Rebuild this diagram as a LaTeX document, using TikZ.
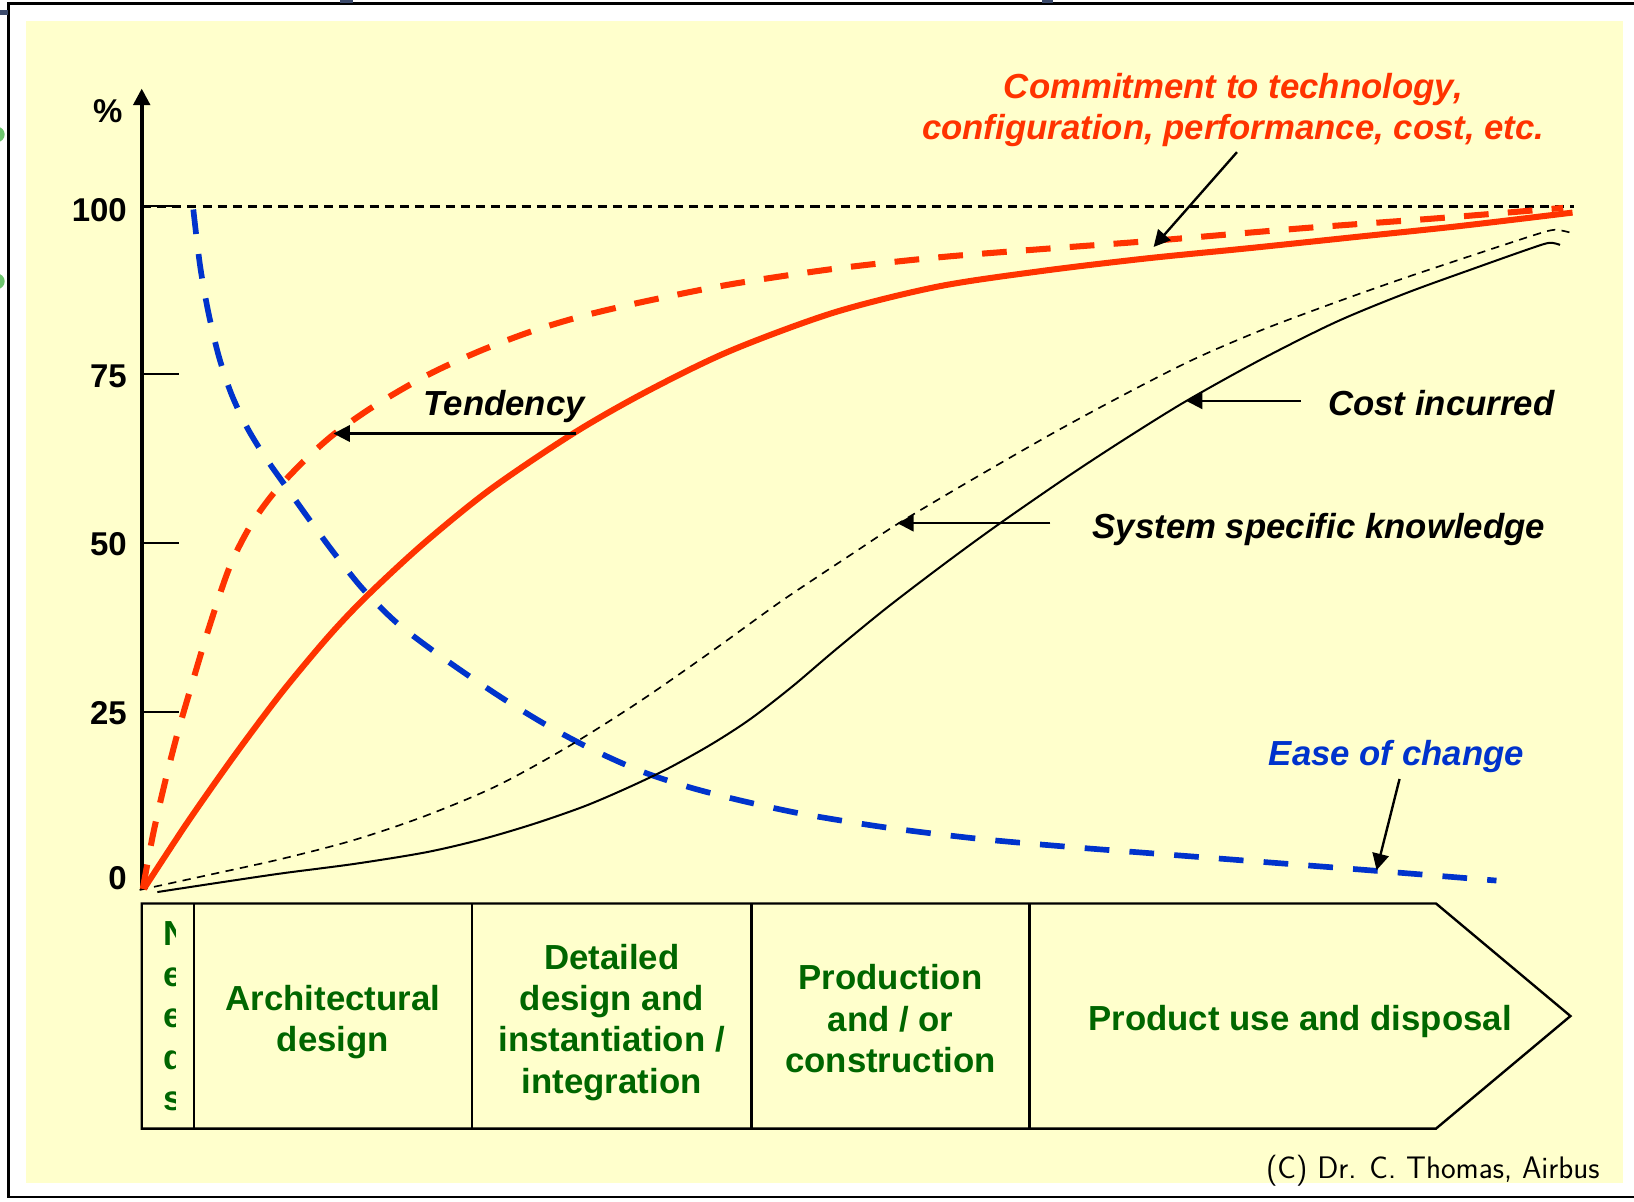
\documentclass[tikz,border=0pt]{standalone}
\usepackage{fontspec}
\setmainfont{Liberation Sans}
\usetikzlibrary{arrows.meta}
\definecolor{slide}{HTML}{FFFFCC}
\definecolor{commit}{HTML}{FF3300}
\definecolor{ease}{HTML}{0033CC}
\definecolor{phasegreen}{HTML}{006600}
\definecolor{dotgreen}{HTML}{6CC46C}
\definecolor{titleblue}{HTML}{3B4A6B}
\tikzset{
    %Define standard arrow tip
    >={Triangle[length=9pt,width=9pt]},
    %Define style for the phase texts
    phase/.style={
           font=\fontsize{19}{22.5}\selectfont\bfseries,
           text=phasegreen,
           align=center,
           inner sep=0pt},
    %Define style for the curve labels
    curvelabel/.style={
           font=\fontsize{19}{22.5}\selectfont\bfseries\itshape,
           align=center,
           inner sep=0pt},
    axlabel/.style={
           font=\fontsize{18}{21}\selectfont\bfseries,
           anchor=east,
           inner sep=0pt},
    % Define arrow style
    pil/.style={
           ->,
           line width=1.3pt},
    yaxis/.style={->, line width=2pt},
    axtick/.style={line width=1.1pt},
    refline/.style={line width=1.5pt, dash pattern=on 5pt off 3.3pt},
    % Define curve styles
    committed/.style={draw=commit, line width=3.3pt},
    tendency/.style={committed, dash pattern=on 13.5pt off 10.5pt},
    easeline/.style={draw=ease, line width=3.1pt, dash pattern=on 13.5pt off 11pt},
    incurred/.style={line width=1.1pt},
    knowledge/.style={line width=0.9pt, dash pattern=on 4.5pt off 3.5pt},
    phasebox/.style={line width=1.3pt}
}
\begin{document}
\begin{tikzpicture}[x=0.02cm, y=-0.02cm]
\useasboundingbox (0,0) rectangle (1568,1153);
% slide around the chart
\begin{scope}
\clip (0,0) rectangle (1568,1153);
\fill[white] (0,0) rectangle (1568,1153);
\fill[slide] (25,20) rectangle (1557,1135);
\draw[line width=1.6pt] (8.6,3.5) rectangle (1600,1148.6);
\fill[titleblue] (0,9.6) rectangle (8,14.4);
\fill[titleblue] (326,0) rectangle (339,2.4);
\fill[titleblue] (1000,0) rectangle (1010,2.4);
\fill[dotgreen] (-3,129) circle (7.5);
\fill[dotgreen] (-3,270) circle (7.5);
\end{scope}

% axis
\draw[refline] (136,198) -- (1510,198);
\draw[axtick] (136,198) -- (172,198);
\draw[axtick] (136,359.3) -- (172,359.3);
\draw[axtick] (136,521) -- (172,521);
\draw[axtick] (136,683) -- (172,683);
\draw[yaxis] (136,854) -- (136,85);
\node[axlabel, anchor=center] (Pct) at (103.5,106.5) {\%};
\node[axlabel] (L100) at (122,201.5) {100};
\node[axlabel] (L75) at (122,361) {75};
\node[axlabel] (L50) at (122,522) {50};
\node[axlabel] (L25) at (122,684) {25};
\node[axlabel] (L0) at (122,843) {0};

% curves
\draw[easeline] plot[smooth] coordinates {(185.5,201) (192,255) (200,300) (210,342) (222,378) (237,410) (254,438) (273,465) (295,496) (320,530) (348,565) (380,597) (415,624) (452,650) (490,675) (530,699) (570,720) (615,740) (660,755) (710,768) (770,781) (850,794) (940,805) (1030,813) (1120,820) (1300,834) (1436,845)};
\draw[incurred] plot[smooth] coordinates {(151,856) (210,847) (271,838) (340,829) (408,818) (460,806) (511,791) (560,774) (600,757) (640,738) (683,714) (720,690) (760,659) (800,625) (850,584) (905,542) (957,504) (1025,457) (1080,421) (1138,385) (1210,345) (1282,309) (1350,281) (1419,256) (1470,238) (1487,233) (1497,235)};
\draw[knowledge] plot[smooth] coordinates {(134,854) (203,839) (271,824) (340,806) (408,783) (477,754) (546,716) (614,673) (683,625) (751,576) (820,530) (861,503) (923,466) (1008,417) (1080,378) (1145,345) (1210,317) (1282,290) (1350,266) (1419,243) (1474,225) (1492,220.5) (1506,223)};
\draw[committed] plot[smooth] coordinates {(138,853) (180,789) (225,725) (270,665) (315,611) (352,572) (406,522) (470,470) (550,416) (620,376) (700,337) (800,300) (900,275) (1000,260) (1100,248) (1200,238) (1300,227.5) (1400,217) (1509,204)};
\draw[tendency] plot[smooth] coordinates {(137,853) (147,800) (158,752) (170,705) (184,657) (200,604) (220,545) (240,505) (262,474) (290,444) (320,417) (360,389) (410,360) (460,337) (510,318) (560,303) (620,289) (700,273) (800,258) (900,247) (1000,239) (1107,231) (1250,219) (1385,209) (1500,199.5)};

% curve labels
\node[curvelabel, text=commit] (Commit) at (1183.5,105.5) {Commitment to technology,\\configuration, performance, cost, etc.};
\node[curvelabel] (Tend) at (484,390) {Tendency};
\node[curvelabel] (Cost) at (1383,387) {Cost incurred};
\node[curvelabel] (Know) at (1265.5,508) {System specific knowledge};
\node[curvelabel, text=ease] (Ease) at (1340,726) {Ease of change};

\coordinate (CommitTail) at (1187,146);
\coordinate (CommitTip) at (1107,237);
\coordinate (TendTail) at (553,416);
\coordinate (TendTip) at (320,416);
\coordinate (CostTail) at (1248,384.5);
\coordinate (CostTip) at (1138,384.5);
\coordinate (KnowTail) at (1008,502);
\coordinate (KnowTip) at (861,502);
\coordinate (EaseTail) at (1343,747.5);
\coordinate (EaseTip) at (1321,835);
\draw[pil] (CommitTail) -- (CommitTip);
\draw[pil] (TendTail) -- (TendTip);
\draw[pil] (CostTail) -- (CostTip);
\draw[pil] (KnowTail) -- (KnowTip);
\draw[pil] (EaseTail) -- (EaseTip);

% life cycle phases
\draw[phasebox] (136,867) -- (1378,867) -- (1507,975) -- (1378,1083) -- (136,1083) -- cycle;
\draw[phasebox] (186,867) -- (186,1083);
\draw[phasebox] (453,867) -- (453,1083);
\draw[phasebox] (721,867) -- (721,1083);
\draw[phasebox] (988,867) -- (988,1083);
\begin{scope}
\clip (136,867) rectangle (168,1083);
\node[phase, align=left, anchor=north west] (Needs) at (157,884) {N\\e\\e\\d\\s};
\end{scope}
\node[phase] (Arch) at (319.5,980.5) {Architectural\\design};
\node[phase] (Detail) at (587,981) {Detailed\\design and\\instantiation /\\integration};
\node[phase] (Prod) at (854.5,977.5) {Production\\and / or\\construction};
\node[phase] (Use) at (1247.5,980.5) {Product use and disposal};

\node[font=\fontsize{17}{20}\selectfont\sffamily, inner sep=0pt] (Copy) at (1375,1123) {(C) Dr. C. Thomas, Airbus};
\end{tikzpicture}
\end{document}
